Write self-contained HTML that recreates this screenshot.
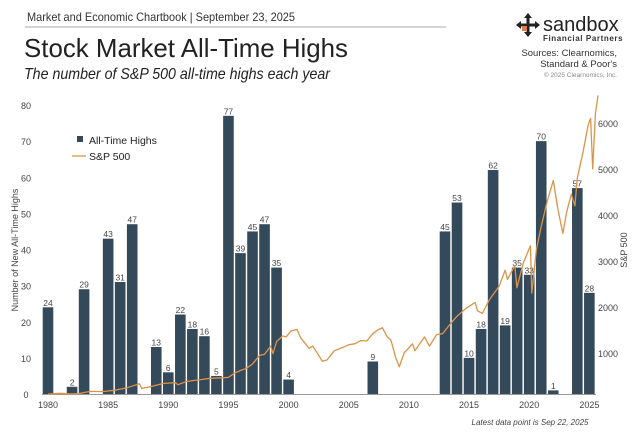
<!DOCTYPE html>
<html><head><meta charset="utf-8"><style>
html,body{margin:0;padding:0;background:#fff;}
svg{display:block;font-family:"Liberation Sans",sans-serif;}
</style></head><body>
<svg id="chart" width="640" height="433" viewBox="0 0 640 433">
<text x="27" y="21" font-size="12" fill="#333" textLength="268" lengthAdjust="spacingAndGlyphs">Market and Economic Chartbook | September 23, 2025</text>
<line x1="25" y1="27" x2="446" y2="27" stroke="#aaa" stroke-width="1"/>
<text x="24" y="57" font-size="26" fill="#222" textLength="324" lengthAdjust="spacingAndGlyphs">Stock Market All-Time Highs</text>
<text x="24" y="79" font-size="16" font-style="italic" fill="#222" textLength="306" lengthAdjust="spacingAndGlyphs">The number of S&amp;P 500 all-time highs each year</text>
<g>
<g transform="translate(528,25)" fill="#222">
<rect x="-1.5" y="-8" width="3" height="16"/><rect x="-8" y="-1.5" width="16" height="3"/>
<polygon points="0,-12 -4,-7 4,-7"/><polygon points="0,12 -4,7 4,7"/><polygon points="-12,0 -7,-4 -7,4"/><polygon points="12,0 7,-4 7,4"/>
<rect x="-6" y="1" width="5" height="5" fill="#e07a4a"/>
</g>
<text x="543" y="31" font-size="20" fill="#222">sandbox</text>
<text x="543" y="41" font-size="8" font-weight="bold" fill="#333" letter-spacing="0.6">Financial Partners</text>
</g>
<text x="617" y="56" font-size="9.5" fill="#333" text-anchor="end">Sources: Clearnomics,</text>
<text x="617" y="67" font-size="9.5" fill="#333" text-anchor="end">Standard &amp; Poor's</text>
<text x="617" y="77" font-size="6.5" fill="#888" text-anchor="end">© 2025 Clearnomics, Inc.</text>
<g id="plot"></g>
<text x="530" y="425" font-size="8" font-style="italic" fill="#444" text-anchor="middle">Latest data point is Sep 22, 2025</text>
</svg>
<script>
const barYears=[1980,1982,1983,1985,1986,1987,1989,1990,1991,1992,1993,1994,1995,1996,1997,1998,1999,2000,2007,2013,2014,2015,2016,2017,2018,2019,2020,2021,2022,2024,2025];
const barValues=[24,2,29,43,31,47,13,6,22,18,16,5,77,39,45,47,35,4,9,45,53,10,18,62,19,35,33,70,1,57,28];
const spxDates=[1980,1981,1982,1982.6,1983.5,1984.5,1985.5,1986.5,1987.6,1987.8,1988.5,1989.6,1990.6,1990.8,1991.5,1992.5,1993.5,1994.5,1995,1995.5,1996,1996.5,1997,1997.6,1998,1998.5,1998.7,1999,1999.5,1999.8,2000.2,2000.7,2001,2001.7,2002,2002.5,2002.8,2003.2,2003.8,2004.5,2005,2005.5,2006,2006.5,2007,2007.4,2007.8,2008.2,2008.5,2008.9,2009.2,2009.6,2010.3,2010.5,2011.3,2011.7,2012.3,2012.8,2013.5,2014,2014.8,2015.5,2015.7,2016.1,2016.7,2017.5,2018,2018.2,2018.8,2018.98,2019.5,2020.1,2020.22,2020.6,2021,2021.5,2022,2022.4,2022.8,2023.1,2023.5,2023.8,2024,2024.5,2024.9,2025.1,2025.28,2025.5,2025.72];
const spxValues=[108,125,110,120,165,160,190,240,330,230,265,340,355,310,380,415,450,460,470,560,620,670,760,950,970,1150,990,1250,1370,1350,1480,1510,1330,1100,1150,950,820,850,1050,1120,1180,1200,1270,1260,1420,1500,1550,1350,1280,900,700,1000,1200,1050,1350,1150,1400,1420,1650,1800,1980,2100,1920,1860,2160,2450,2800,2600,2900,2420,2950,3330,2300,3250,3750,4300,4750,4100,3600,4050,4450,4200,4800,5400,5950,6100,5000,6200,6600];
const yTicks=[0,10,20,30,40,50,60,70,80];
const rTicks=[1000,2000,3000,4000,5000,6000];
const xTicks=[1980,1985,1990,1995,2000,2005,2010,2015,2020,2025];

const NS='http://www.w3.org/2000/svg';
const plot=document.getElementById('plot');
function mk(tag,attrs,parent){const e=document.createElementNS(NS,tag);for(const k in attrs)e.setAttribute(k,attrs[k]);(parent||plot).appendChild(e);return e;}
const xS=y=>48+(y-1980)*12.03;
const yS=v=>394-v*3.6125;
const rS=v=>399-v*0.046;

for(let i=0;i<yTicks.length;i++){
  const t=mk('text',{x:26,y:yS(yTicks[i])+4,'font-size':9,fill:'#444','text-anchor':'middle'});
  t.textContent=yTicks[i];
  
  
}
for(let i=0;i<rTicks.length;i++){
  const t=mk('text',{x:598,y:rS(rTicks[i])+4,'font-size':9,fill:'#444'});
  t.textContent=rTicks[i];
  
  
}
for(let i=0;i<xTicks.length;i++){
  const t=mk('text',{x:xS(xTicks[i]),y:408,'font-size':9,fill:'#444','text-anchor':'middle'});
  t.textContent=xTicks[i];
  
  
}
const yt=mk('text',{x:0,y:0,'font-size':9,fill:'#444','text-anchor':'middle',transform:'translate(18,250) rotate(-90)'});
yt.textContent='Number of New All-Time Highs';


const rt=mk('text',{x:0,y:0,'font-size':9,fill:'#444','text-anchor':'middle',transform:'translate(627,250) rotate(-90)'});
rt.textContent='S&P 500';



for(let i=0;i<barYears.length;i++){
  const cx=xS(barYears[i]);
  const r=mk('rect',{x:cx-5.3,y:yS(barValues[i]),width:10.6,height:yS(0)-yS(barValues[i]),fill:'#34495a'});
  
  
  const t=mk('text',{x:cx,y:yS(barValues[i])-1.5,'font-size':8.5,fill:'#444','text-anchor':'middle'});
  t.textContent=barValues[i];
  
  
}
const ax=mk('line',{x1:42,y1:394.5,x2:596,y2:394.5,stroke:'#999','stroke-width':1});



let d='';
for(let i=0;i<spxDates.length;i++){d+=(i?'L':'M')+xS(spxDates[i]).toFixed(1)+','+rS(spxValues[i]).toFixed(1);}
const ln=mk('path',{d:d,fill:'none',stroke:'#d9944a','stroke-width':1.3,'stroke-linejoin':'round'});



const lg=mk('g',{});


const l1=mk('rect',{x:77,y:136,width:6,height:6,fill:'#34495a'},lg);


const l1t=mk('text',{x:89,y:144,'font-size':10.5,fill:'#222'},lg);
l1t.textContent='All-Time Highs';


const l2=mk('line',{x1:72,y1:156,x2:86,y2:156,stroke:'#d9944a','stroke-width':1.3},lg);


const l2t=mk('text',{x:89,y:160,'font-size':10.5,fill:'#222'},lg);
l2t.textContent='S&P 500';


</script>
</body></html>
